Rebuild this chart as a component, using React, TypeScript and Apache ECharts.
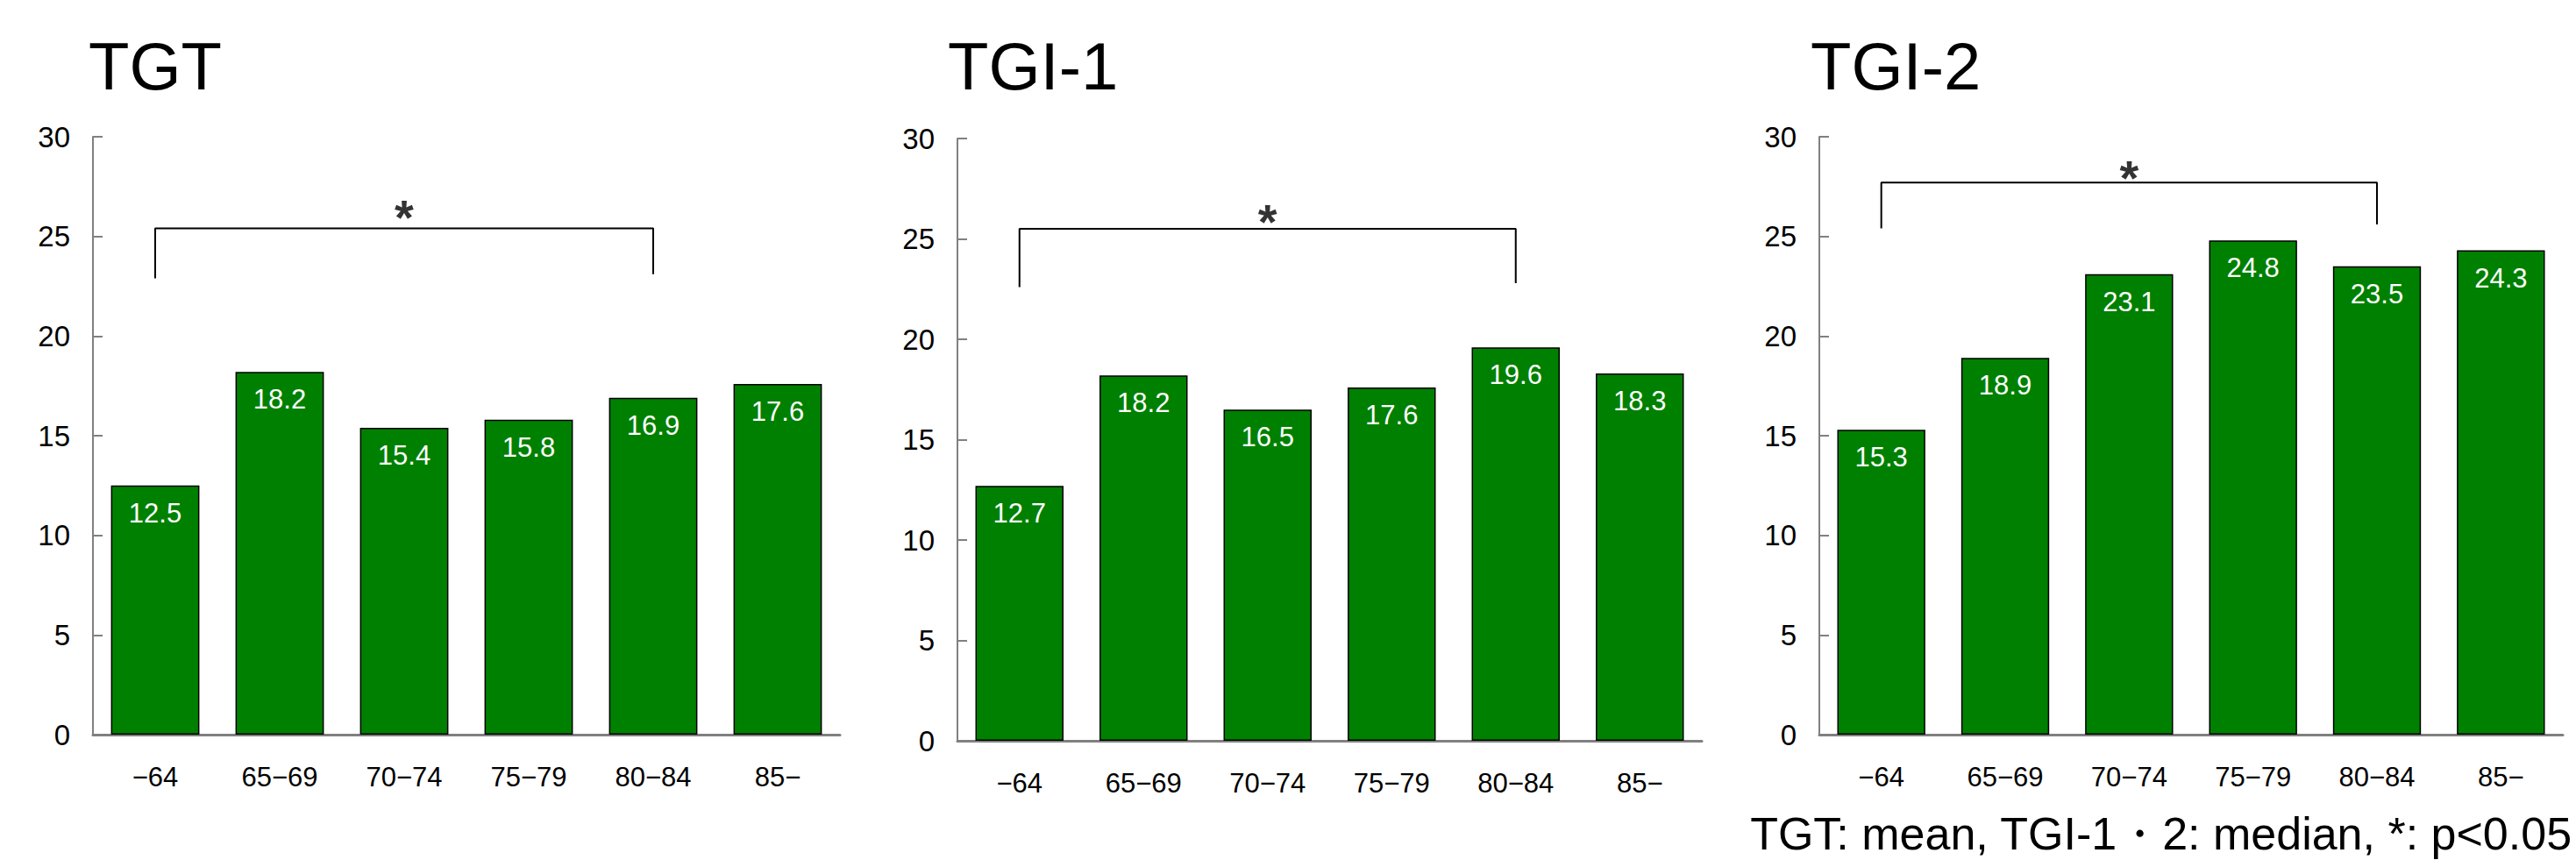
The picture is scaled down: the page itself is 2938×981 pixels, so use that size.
import React, { useEffect, useRef } from "react";
import * as echarts from "echarts";

const categories = ["−64", "65−69", "70−74", "75−79", "80−84", "85−"];
const panelTitles = ["TGT", "TGI-1", "TGI-2"];
const tgtValues = [12.5, 18.2, 15.4, 15.8, 16.9, 17.6];
const tgi1Values = [12.7, 18.2, 16.5, 17.6, 19.6, 18.3];
const tgi2Values = [15.3, 18.9, 23.1, 24.8, 23.5, 24.3];
const panelValues = [tgtValues, tgi1Values, tgi2Values];

// significance brackets (between "−64" and "80−84")
const bracketFrom = 0;
const bracketTo = 4;
const bracketTop = [25.4, 25.5, 27.7];
const bracketLegLeft = [22.9, 22.6, 25.4];
const bracketLegRight = [23.1, 22.8, 25.6];
const starValue = [26.5, 26.4, 28.5];
const starCategory = 2;

const yMin = 0;
const yMax = 30;
const yInterval = 5;

const footnote = "TGT: mean, TGI-1・2: median, *: p<0.05";

const FONT = "'Liberation Sans', Arial, Helvetica, sans-serif";

const grids = [
  { left: 106, top: 156, width: 852, height: 682 },
  { left: 1092, top: 158, width: 849, height: 687 },
  { left: 2075, top: 156, width: 848, height: 682 },
];
const titlePos = [
  { left: 101, top: 37 },
  { left: 1081, top: 37 },
  { left: 2065, top: 37 },
];

export default function App() {
  const ref = useRef<HTMLDivElement>(null);

  useEffect(() => {
    if (!ref.current) return;
    const chart = echarts.init(ref.current, null, { renderer: "svg" });

    const series: any[] = [];
    panelValues.forEach((vals, i) => {
      series.push({
        type: "bar",
        xAxisIndex: i,
        yAxisIndex: i,
        data: vals,
        barWidth: "71%",
        itemStyle: { color: "#008000", borderColor: "#000", borderWidth: 1.5 },
        label: {
          show: true,
          position: "insideTop",
          distance: 16,
          color: "#fff",
          fontSize: 31,
          fontFamily: FONT,
          formatter: (p: any) => p.value.toFixed(1),
        },
        silent: true,
      });
      series.push({
        type: "line",
        xAxisIndex: i,
        yAxisIndex: i,
        data: [
          [bracketFrom, bracketLegLeft[i]],
          [bracketFrom, bracketTop[i]],
          [bracketTo, bracketTop[i]],
          [bracketTo, bracketLegRight[i]],
        ],
        symbol: "none",
        lineStyle: { color: "#000", width: 2 },
        z: 5,
        silent: true,
      });
      series.push({
        type: "scatter",
        xAxisIndex: i,
        yAxisIndex: i,
        data: [[starCategory, starValue[i]]],
        symbolSize: 1,
        itemStyle: { color: "rgba(0,0,0,0)" },
        label: {
          show: true,
          position: "inside",
          formatter: "*",
          color: "#000",
          fontSize: 56,
          fontWeight: "bold",
          fontFamily: FONT,
          offset: [0, 12],
        },
        silent: true,
      });
    });

    chart.setOption({
      animation: false,
      backgroundColor: "#fff",
      textStyle: { fontFamily: FONT },
      title: panelTitles.map((t, i) => ({
        text: t,
        left: titlePos[i].left,
        top: titlePos[i].top,
        padding: 0,
        textStyle: { fontSize: 76, fontWeight: "normal", color: "#000", fontFamily: FONT },
      })),
      grid: grids.map((g) => ({ ...g, containLabel: false })),
      xAxis: grids.map((_, i) => ({
        type: "category",
        gridIndex: i,
        data: categories,
        axisLine: { show: true, lineStyle: { color: "#808080", width: 3 } },
        axisTick: { show: false },
        axisLabel: { color: "#000", fontSize: 31, margin: 33, fontFamily: FONT },
        splitLine: { show: false },
      })),
      yAxis: grids.map((_, i) => ({
        type: "value",
        gridIndex: i,
        min: yMin,
        max: yMax,
        interval: yInterval,
        axisLine: { show: true, lineStyle: { color: "#808080", width: 2 } },
        axisTick: { show: true, inside: true, length: 11, lineStyle: { color: "#808080", width: 2 } },
        axisLabel: { color: "#000", fontSize: 33, margin: 26, fontFamily: FONT },
        splitLine: { show: false },
      })),
      series,
      graphic: [
        {
          type: "text",
          right: 4,
          top: 925,
          style: {
            text: footnote,
            fontSize: 52,
            fontFamily: FONT,
            fill: "#000",
          },
        },
      ],
    });

    return () => chart.dispose();
  }, []);

  return (
    <div
      ref={ref}
      style={{ position: "absolute", left: 0, top: 0, width: 2938, height: 981, background: "#fff" }}
    />
  );
}
